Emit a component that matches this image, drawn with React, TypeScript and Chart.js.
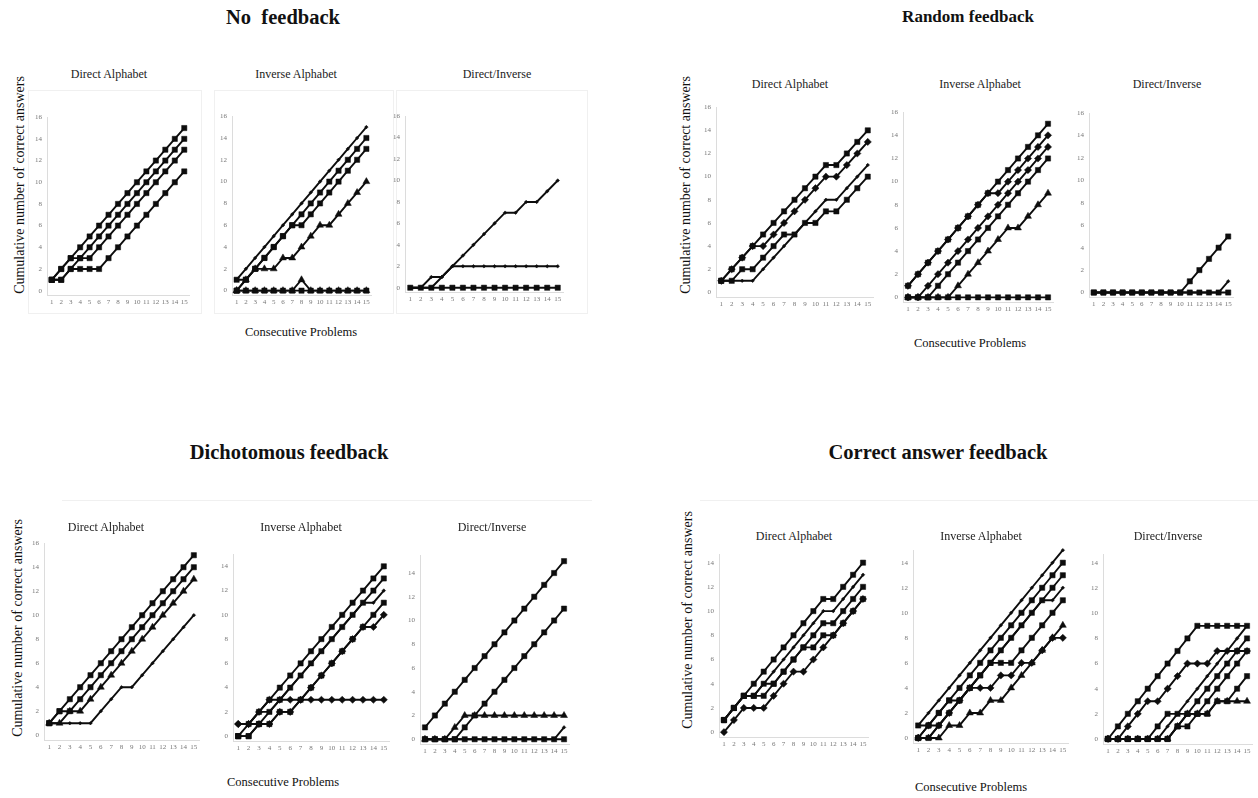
import React, { useEffect, useRef } from "react";
import { Chart, registerables } from "chart.js";
Chart.register(...registerables);

const FONT = "'Liberation Serif', 'DejaVu Serif', serif";

// x categories: consecutive problems
const problems = [1, 2, 3, 4, 5, 6, 7, 8, 9, 10, 11, 12, 13, 14, 15];
const yTickStep = 2;

// ---------- No feedback ----------
const nfDA1 = [1, 2, 3, 4, 5, 6, 7, 8, 9, 10, 11, 12, 13, 14, 15];
const nfDA2 = [1, 2, 3, 3, 4, 5, 6, 7, 8, 9, 10, 11, 12, 13, 14];
const nfDA3 = [1, 1, 2, 3, 3, 4, 5, 6, 7, 8, 9, 10, 11, 12, 13];
const nfDA4 = [1, 1, 2, 2, 2, 2, 3, 4, 5, 6, 7, 8, 9, 10, 11];

const nfIA1 = [1, 2, 3, 4, 5, 6, 7, 8, 9, 10, 11, 12, 13, 14, 15];
const nfIA2 = [1, 1, 2, 3, 4, 5, 6, 7, 8, 9, 10, 11, 12, 13, 14];
const nfIA3 = [0, 1, 2, 3, 4, 5, 6, 6, 7, 8, 9, 10, 11, 12, 13];
const nfIA4 = [0, 1, 2, 2, 2, 3, 3, 4, 5, 6, 6, 7, 8, 9, 10];
const nfIA5 = [0, 0, 0, 0, 0, 0, 0, 1, 0, 0, 0, 0, 0, 0, 0];
const nfIA6 = [0, 0, 0, 0, 0, 0, 0, 0, 0, 0, 0, 0, 0, 0, 0];

const nfDI1 = [0, 0, 0, 1, 2, 3, 4, 5, 6, 7, 7, 8, 8, 9, 10];
const nfDI2 = [0, 0, 1, 1, 2, 2, 2, 2, 2, 2, 2, 2, 2, 2, 2];
const nfDI3 = [0, 0, 0, 0, 0, 0, 0, 0, 0, 0, 0, 0, 0, 0, 0];

// ---------- Random feedback ----------
const rfDA1 = [1, 2, 3, 4, 5, 6, 7, 8, 9, 10, 11, 11, 12, 13, 14];
const rfDA2 = [1, 2, 3, 4, 4, 5, 6, 7, 8, 9, 10, 10, 11, 12, 13];
const rfDA3 = [1, 1, 2, 2, 3, 4, 5, 5, 6, 6, 7, 7, 8, 9, 10];
const rfDA4 = [1, 1, 1, 1, 2, 3, 4, 5, 6, 7, 8, 8, 9, 10, 11];

const rfIA1 = [1, 2, 3, 4, 5, 6, 7, 8, 9, 10, 11, 12, 13, 14, 15];
const rfIA2 = [1, 2, 3, 4, 5, 6, 7, 8, 9, 9, 10, 11, 12, 13, 14];
const rfIA3 = [0, 0, 1, 2, 3, 4, 5, 6, 7, 8, 9, 10, 11, 12, 13];
const rfIA4 = [0, 0, 0, 1, 2, 3, 4, 5, 6, 7, 8, 9, 10, 11, 12];
const rfIA5 = [0, 0, 0, 0, 0, 1, 2, 3, 4, 5, 6, 6, 7, 8, 9];
const rfIA6 = [0, 0, 0, 0, 0, 0, 0, 0, 0, 0, 0, 0, 0, 0, 0];

const rfDI1 = [0, 0, 0, 0, 0, 0, 0, 0, 0, 0, 0, 0, 0, 0, 0];
const rfDI2 = [0, 0, 0, 0, 0, 0, 0, 0, 0, 0, 1, 2, 3, 4, 5];
const rfDI3 = [0, 0, 0, 0, 0, 0, 0, 0, 0, 0, 0, 0, 0, 0, 1];

// ---------- Dichotomous feedback ----------
const dfDA1 = [1, 2, 3, 4, 5, 6, 7, 8, 9, 10, 11, 12, 13, 14, 15];
const dfDA2 = [1, 2, 2, 3, 4, 5, 6, 7, 8, 9, 10, 11, 12, 13, 14];
const dfDA3 = [1, 1, 2, 2, 3, 4, 5, 6, 7, 8, 9, 10, 11, 12, 13];
const dfDA4 = [1, 1, 1, 1, 1, 2, 3, 4, 4, 5, 6, 7, 8, 9, 10];

const dfIA1 = [0, 1, 2, 3, 4, 5, 6, 7, 8, 9, 10, 11, 12, 13, 14];
const dfIA2 = [0, 0, 1, 2, 3, 4, 5, 6, 7, 8, 9, 10, 11, 12, 13];
const dfIA3 = [1, 1, 2, 2, 3, 4, 5, 6, 7, 8, 9, 10, 11, 11, 12];
const dfIA4 = [0, 0, 1, 1, 2, 2, 3, 4, 5, 6, 7, 8, 9, 10, 11];
const dfIA5 = [1, 1, 1, 1, 2, 2, 3, 4, 5, 6, 7, 8, 9, 9, 10];
const dfIA6 = [1, 1, 2, 3, 3, 3, 3, 3, 3, 3, 3, 3, 3, 3, 3];

const dfDI1 = [1, 2, 3, 4, 5, 6, 7, 8, 9, 10, 11, 12, 13, 14, 15];
const dfDI2 = [0, 0, 0, 0, 1, 2, 3, 4, 5, 6, 7, 8, 9, 10, 11];
const dfDI3 = [0, 0, 0, 1, 2, 2, 2, 2, 2, 2, 2, 2, 2, 2, 2];
const dfDI4 = [0, 0, 0, 0, 0, 0, 0, 0, 0, 0, 0, 0, 0, 0, 0];
const dfDI5 = [0, 0, 0, 0, 0, 0, 0, 0, 0, 0, 0, 0, 0, 0, 1];

// ---------- Correct answer feedback ----------
const cfDA1 = [1, 2, 3, 4, 5, 6, 7, 8, 9, 10, 11, 11, 12, 13, 14];
const cfDA2 = [1, 2, 3, 3, 4, 5, 6, 7, 8, 9, 10, 10, 11, 12, 13];
const cfDA3 = [1, 2, 3, 3, 4, 4, 5, 6, 7, 8, 9, 9, 10, 11, 12];
const cfDA4 = [0, 1, 2, 2, 2, 3, 4, 5, 5, 6, 7, 8, 9, 10, 11];
const cfDA5 = [1, 2, 3, 3, 3, 4, 5, 6, 7, 7, 8, 8, 9, 10, 11];

const cfIA1 = [1, 2, 3, 4, 5, 6, 7, 8, 9, 10, 11, 12, 13, 14, 15];
const cfIA2 = [1, 1, 2, 3, 4, 5, 6, 7, 8, 9, 10, 11, 12, 13, 14];
const cfIA3 = [0, 1, 2, 3, 3, 4, 5, 6, 7, 8, 9, 10, 11, 12, 13];
const cfIA4 = [0, 0, 1, 2, 3, 4, 5, 6, 7, 8, 9, 10, 11, 11, 12];
const cfIA5 = [0, 0, 1, 2, 3, 4, 5, 6, 6, 6, 7, 8, 9, 10, 11];
const cfIA6 = [0, 1, 1, 2, 3, 4, 4, 4, 5, 5, 6, 6, 7, 8, 8];
const cfIA7 = [0, 0, 0, 1, 1, 2, 2, 3, 3, 4, 5, 6, 7, 8, 9];

const cfDI1 = [0, 1, 2, 3, 4, 5, 6, 7, 8, 9, 9, 9, 9, 9, 9];
const cfDI2 = [0, 0, 1, 2, 3, 3, 4, 5, 6, 6, 6, 7, 7, 7, 7];
const cfDI3 = [0, 0, 0, 0, 0, 0, 1, 2, 3, 4, 5, 6, 7, 8, 9];
const cfDI4 = [0, 0, 0, 0, 0, 0, 0, 1, 2, 3, 4, 5, 6, 7, 8];
const cfDI5 = [0, 0, 0, 0, 0, 1, 2, 2, 2, 2, 3, 4, 5, 6, 7];
const cfDI6 = [0, 0, 0, 0, 0, 0, 0, 1, 1, 2, 2, 3, 3, 4, 5];
const cfDI7 = [0, 0, 0, 0, 0, 0, 0, 1, 2, 2, 2, 3, 3, 3, 3];

type Marker = "sq" | "tri" | "dia" | "dot";
type Series = { data: number[]; marker: Marker };
type PanelDef = {
  title: string;
  series: Series[];
  x1: number; x15: number; y0: number; ppu: number; max: number;
  titleX: number; titleY: number;
};

const S = (data: number[], marker: Marker): Series => ({ data, marker });

const panels: PanelDef[] = [
  // No feedback
  { title: "Direct Alphabet", titleX: 109, titleY: 74, x1: 51.7, x15: 184, y0: 290, ppu: 10.9, max: 16,
    series: [S(nfDA1, "sq"), S(nfDA2, "sq"), S(nfDA3, "sq"), S(nfDA4, "sq")] },
  { title: "Inverse Alphabet", titleX: 296, titleY: 74, x1: 236.7, x15: 366.7, y0: 291, ppu: 11, max: 16,
    series: [S(nfIA1, "dot"), S(nfIA2, "sq"), S(nfIA3, "sq"), S(nfIA4, "tri"), S(nfIA6, "sq"), S(nfIA5, "tri")] },
  { title: "Direct/Inverse", titleX: 497, titleY: 74, x1: 410, x15: 557.7, y0: 288, ppu: 10.8, max: 16,
    series: [S(nfDI1, "dot"), S(nfDI2, "dot"), S(nfDI3, "sq")] },
  // Random feedback
  { title: "Direct Alphabet", titleX: 790, titleY: 84, x1: 721, x15: 867.3, y0: 292.3, ppu: 11.67, max: 16,
    series: [S(rfDA1, "sq"), S(rfDA2, "dia"), S(rfDA3, "sq"), S(rfDA4, "dot")] },
  { title: "Inverse Alphabet", titleX: 980, titleY: 84, x1: 907.7, x15: 1047.3, y0: 297.3, ppu: 11.65, max: 16,
    series: [S(rfIA1, "sq"), S(rfIA2, "dia"), S(rfIA3, "dia"), S(rfIA4, "sq"), S(rfIA5, "tri"), S(rfIA6, "sq")] },
  { title: "Direct/Inverse", titleX: 1167, titleY: 84, x1: 1094.3, x15: 1229, y0: 292.3, ppu: 11.25, max: 16,
    series: [S(rfDI3, "dot"), S(rfDI1, "sq"), S(rfDI2, "sq")] },
  // Dichotomous feedback
  { title: "Direct Alphabet", titleX: 106, titleY: 527, x1: 49.3, x15: 194, y0: 735, ppu: 12.08, max: 16,
    series: [S(dfDA1, "sq"), S(dfDA2, "sq"), S(dfDA3, "tri"), S(dfDA4, "dot")] },
  { title: "Inverse Alphabet", titleX: 301, titleY: 527, x1: 237.7, x15: 383.3, y0: 735.7, ppu: 12.2, max: 15,
    series: [S(dfIA1, "sq"), S(dfIA2, "sq"), S(dfIA3, "dot"), S(dfIA4, "sq"), S(dfIA5, "dia"), S(dfIA6, "dia")] },
  { title: "Direct/Inverse", titleX: 492, titleY: 527, x1: 425, x15: 564.3, y0: 739.3, ppu: 11.97, max: 15.5,
    series: [S(dfDI1, "sq"), S(dfDI2, "sq"), S(dfDI3, "tri"), S(dfDI5, "dot"), S(dfDI4, "sq")] },
  // Correct answer feedback
  { title: "Direct Alphabet", titleX: 794, titleY: 536, x1: 724.3, x15: 863.3, y0: 732.3, ppu: 12.19, max: 14.7,
    series: [S(cfDA1, "sq"), S(cfDA2, "dot"), S(cfDA3, "sq"), S(cfDA4, "dia"), S(cfDA5, "sq")] },
  { title: "Inverse Alphabet", titleX: 981, titleY: 536, x1: 917.7, x15: 1062.3, y0: 738.3, ppu: 12.6, max: 15,
    series: [S(cfIA1, "dot"), S(cfIA2, "sq"), S(cfIA3, "sq"), S(cfIA4, "dot"), S(cfIA5, "sq"), S(cfIA6, "dia"), S(cfIA7, "tri")] },
  { title: "Direct/Inverse", titleX: 1168, titleY: 536, x1: 1108.3, x15: 1247.7, y0: 739.3, ppu: 12.64, max: 14.7,
    series: [S(cfDI1, "sq"), S(cfDI2, "dia"), S(cfDI3, "dot"), S(cfDI4, "sq"), S(cfDI5, "sq"), S(cfDI6, "sq"), S(cfDI7, "tri")] },
];

const groups = [
  { title: "No  feedback", size: 20.5, x: 283, y: 17, ylabX: 20, ylabY: 185, xlabX: 301, xlabY: 332 },
  { title: "Random feedback", size: 17, x: 968, y: 17, ylabX: 686, ylabY: 185, xlabX: 970, xlabY: 343 },
  { title: "Dichotomous feedback", size: 20.5, x: 289, y: 452, ylabX: 18, ylabY: 628, xlabX: 283, xlabY: 782 },
  { title: "Correct answer feedback", size: 20.5, x: 938, y: 452, ylabX: 688, ylabY: 620, xlabX: 971, xlabY: 787 },
];

const Y_W = 18, PAD_T = 8, PAD_R = 8, X_H = 16, Y_MIN = -0.4;

const markerStyle = (m: Marker) => {
  switch (m) {
    case "sq": return { pointStyle: "rect", pointRadius: 3.7 };
    case "tri": return { pointStyle: "triangle", pointRadius: 4 };
    case "dia": return { pointStyle: "rectRot", pointRadius: 3.6 };
    default: return { pointStyle: "rectRot", pointRadius: 1.8 };
  }
};

function Panel({ p }: { p: PanelDef }) {
  const ref = useRef<HTMLCanvasElement | null>(null);
  const sp = (p.x15 - p.x1) / 14;
  const left = p.x1 - sp / 2;
  const right = p.x15 + sp / 2;
  const top = p.y0 - p.max * p.ppu;
  const bottom = p.y0 - Y_MIN * p.ppu;
  const cw = Math.round(right - left + Y_W + PAD_R);
  const ch = Math.round(bottom - top + PAD_T + X_H);
  const cl = Math.round(left - Y_W);
  const ct = Math.round(top - PAD_T);

  useEffect(() => {
    if (!ref.current) return;
    const yTicks: number[] = [];
    for (let v = 0; v <= p.max + 1e-6; v += yTickStep) yTicks.push(v);
    const chart = new Chart(ref.current, {
      type: "line",
      data: {
        datasets: p.series.map((s) => ({
          data: s.data.map((v, i) => ({ x: problems[i], y: v })),
          borderColor: "#0d0d0d",
          backgroundColor: "#0d0d0d",
          borderWidth: 1.9,
          pointBackgroundColor: "#0d0d0d",
          pointBorderColor: "#0d0d0d",
          pointBorderWidth: 0.5,
          tension: 0,
          clip: false as any,
          ...markerStyle(s.marker),
        })) as any,
      },
      options: {
        animation: false,
        responsive: false,
        maintainAspectRatio: false,
        events: [],
        layout: { padding: { top: PAD_T, right: PAD_R, left: 0, bottom: 0 } },
        plugins: { legend: { display: false }, tooltip: { enabled: false }, title: { display: false } },
        scales: {
          x: {
            type: "linear",
            min: 0.5,
            max: 15.5,
            grid: { display: false, drawTicks: false },
            border: { display: true, color: "#dcdcdc", width: 1 },
            ticks: { font: { family: FONT, size: 7 }, color: "#777", padding: 3, maxRotation: 0, autoSkip: false },
            afterBuildTicks: (s: any) => { s.ticks = problems.map((v) => ({ value: v })); },
            afterFit: (s: any) => { s.height = X_H; },
          },
          y: {
            type: "linear",
            min: Y_MIN,
            max: p.max,
            grid: { display: false, drawTicks: false },
            border: { display: true, color: "#dcdcdc", width: 1 },
            ticks: { font: { family: FONT, size: 7 }, color: "#777", padding: 5 },
            afterBuildTicks: (s: any) => { s.ticks = yTicks.map((v) => ({ value: v })); },
            afterFit: (s: any) => { s.width = Y_W; },
          },
        },
      } as any,
    });
    return () => chart.destroy();
  }, []);

  return (
    <>
      <canvas
        ref={ref}
        width={cw}
        height={ch}
        style={{ position: "absolute", left: cl, top: ct, width: cw, height: ch }}
      />
      <div style={{ position: "absolute", left: p.titleX, top: p.titleY, transform: "translate(-50%, -50%)", fontSize: 12, whiteSpace: "nowrap", color: "#222" }}>
        {p.title}
      </div>
    </>
  );
}

export default function App() {
  return (
    <div style={{ position: "absolute", left: 0, top: 0, width: 1258, height: 798, background: "#fff", fontFamily: FONT, overflow: "hidden", color: "#111" }}>
      {/* faint frames around the no-feedback panels */}
      <div style={{ position: "absolute", left: 28, top: 90, width: 172, height: 222, border: "1px solid #f0f0f0" }} />
      <div style={{ position: "absolute", left: 214, top: 90, width: 178, height: 222, border: "1px solid #f0f0f0" }} />
      <div style={{ position: "absolute", left: 396, top: 90, width: 190, height: 222, border: "1px solid #f0f0f0" }} />
      {/* faint separators */}
      <div style={{ position: "absolute", left: 62, top: 500, width: 530, height: 1, background: "#f0f0f0" }} />
      <div style={{ position: "absolute", left: 700, top: 500, width: 558, height: 1, background: "#f0f0f0" }} />
      {groups.map((g, i) => (
        <React.Fragment key={i}>
          <div style={{ position: "absolute", left: g.x, top: g.y, transform: "translate(-50%, -50%)", fontSize: g.size, fontWeight: "bold", whiteSpace: "pre" }}>
            {g.title}
          </div>
          <div style={{ position: "absolute", left: g.ylabX, top: g.ylabY, transform: "translate(-50%, -50%) rotate(-90deg)", fontSize: 14, whiteSpace: "nowrap" }}>
            Cumulative number of correct answers
          </div>
          <div style={{ position: "absolute", left: g.xlabX, top: g.xlabY, transform: "translate(-50%, -50%)", fontSize: 12.5, whiteSpace: "nowrap" }}>
            Consecutive Problems
          </div>
        </React.Fragment>
      ))}
      {panels.map((p, i) => <Panel key={i} p={p} />)}
    </div>
  );
}
